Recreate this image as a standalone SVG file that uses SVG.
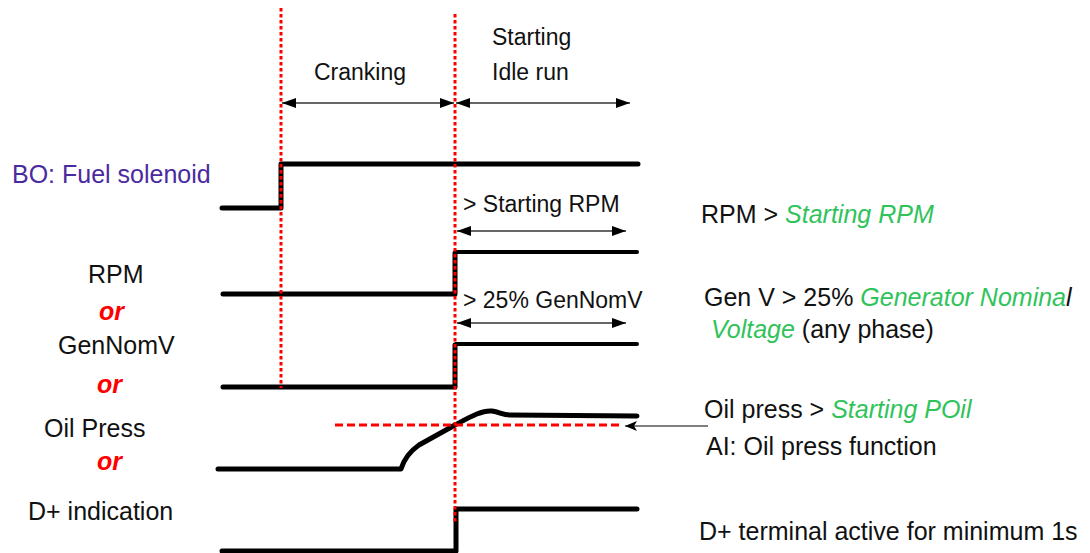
<svg xmlns="http://www.w3.org/2000/svg" width="1090" height="553" viewBox="0 0 1090 553">
<style>
text{font-family:"Liberation Sans",Arial,sans-serif;fill:#111}
.side{font-size:25px}
.chart{font-size:23px}
.g{fill:#2fc35a;font-style:italic}
.or{fill:#ff0000;font-weight:bold;font-style:italic;font-size:25px}
.bo{fill:#4b2aa0}
.sig{fill:none;stroke:#000;stroke-width:5;stroke-linecap:round;stroke-linejoin:round}
.sig4{fill:none;stroke:#000;stroke-width:4;stroke-linecap:round}
.vred{fill:none;stroke:#ff0000;stroke-width:3;stroke-dasharray:3.5 2.5}
.hred{fill:none;stroke:#ff0000;stroke-width:3;stroke-dasharray:8 4}
.arr{fill:none;stroke:#333;stroke-width:1.7;marker-start:url(#ah);marker-end:url(#ah)}
</style>
<defs>
<marker id="ah" viewBox="0 0 14 10" refX="14" refY="5" markerWidth="14" markerHeight="10" markerUnits="userSpaceOnUse" orient="auto-start-reverse">
<path d="M0,0 L14,5 L0,10 Z" fill="#000"/>
</marker>
<marker id="ah2" viewBox="0 0 12 10" refX="12" refY="5" markerWidth="12" markerHeight="10" markerUnits="userSpaceOnUse" orient="auto">
<path d="M0,0 L12,5 L0,10 L3,5 Z" fill="#000"/>
</marker>
</defs>

<g id="signals">
<g id="fuel-signal"><path class="sig" d="M222,208 L281,208 L281,164 L638,164"/></g>
<g id="rpm-signal"><path class="sig" d="M223,294 L455,294 L455,253"/><path class="sig4" d="M456,252 L637,252"/></g>
<g id="gen-signal"><path class="sig" d="M223,387 L455,387 L455,345"/><path class="sig4" d="M456,344 L637,344"/></g>
<g id="oil-signal"><path class="sig" d="M218,469 L401,469 C404,459 409,452 419,445 L455,425 C470,417 482,410 492,411 C500,412 502,415 510,415 L637,416"/></g>
<g id="dplus-signal"><path class="sig" d="M222,551 L456,551 L456,509 L637,509"/></g>
</g>

<g id="connectors">
<path class="vred" d="M281,8 L281,388"/>
<path class="vred" d="M455,14 L455,522"/>
<path class="hred" d="M335,425 L622,425"/>
<path class="arr" d="M282,103 L454,103"/>
<path class="arr" d="M456,103 L630,103"/>
<path class="arr" d="M457,231 L626,231"/>
<path class="arr" d="M457,323 L626,323"/>
<path d="M708,426 L625,426" fill="none" stroke="#000" stroke-width="1.2" marker-end="url(#ah2)"/>
</g>

<g id="phase-labels">
<text class="chart" x="360" y="80" text-anchor="middle">Cranking</text>
<text class="chart" x="492" y="45">Starting</text>
<text class="chart" x="492" y="80">Idle run</text>
<text class="chart" x="463" y="212">&gt; Starting RPM</text>
<text class="chart" x="463" y="308">&gt; 25% GenNomV</text>
</g>

<g id="left-labels">
<text class="side bo" x="12" y="183">BO: Fuel solenoid</text>
<text class="side" x="88" y="283">RPM</text>
<text class="or" x="99" y="320">or</text>
<text class="side" x="58" y="354">GenNomV</text>
<text class="or" x="97" y="393">or</text>
<text class="side" x="44" y="437">Oil Press</text>
<text class="or" x="97" y="470">or</text>
<text class="side" x="28" y="520">D+ indication</text>
</g>

<g id="right-labels">
<text class="side" x="701" y="223">RPM &gt; <tspan class="g">Starting RPM</tspan></text>
<text class="side" x="704" y="306">Gen V &gt; 25% <tspan class="g">Generator Nomina</tspan><tspan font-style="italic">l</tspan></text>
<text class="side" x="711" y="338"><tspan class="g">Voltage</tspan> (any phase)</text>
<text class="side" x="704" y="418">Oil press &gt; <tspan class="g">Starting POil</tspan></text>
<text class="side" x="706" y="455">AI: Oil press function</text>
<text class="side" x="699" y="540">D+ terminal active for minimum 1s</text>
</g>
</svg>
